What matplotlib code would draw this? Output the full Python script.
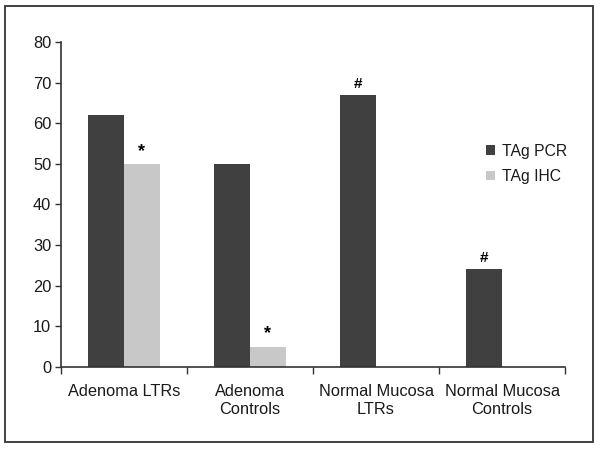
import matplotlib.pyplot as plt
from matplotlib.patches import Rectangle
import numpy as np

plt.rcParams['font.family'] = ['Liberation Sans', 'DejaVu Sans']

# Dados do gráfico
categorias = ["Adenoma LTRs", "Adenoma\nControls", "Normal Mucosa\nLTRs", "Normal Mucosa\nControls"]
tag_pcr = [62, 50, 67, 24]
tag_ihc = [50, 5, 0, 0]
marca_pcr = ["", "", "#", "#"]
marca_ihc = ["*", "*", "", ""]
y_ticks = [0, 10, 20, 30, 40, 50, 60, 70, 80]

cor_pcr = '#404040'
cor_ihc = '#c8c8c8'
cor_texto = '#1a1a1a'

fig = plt.figure(figsize=(6, 4.49), dpi=100)
ax = fig.add_axes([0.1017, 0.1826, 0.84, 0.724])

x = np.arange(len(categorias)) + 0.5
largura = 0.285

ax.bar(x - largura / 2, tag_pcr, largura, color=cor_pcr, label='TAg PCR')
ax.bar(x + largura / 2, tag_ihc, largura, color=cor_ihc, label='TAg IHC')

# Marcas de significância
for xi, v, m in zip(x - largura / 2, tag_pcr, marca_pcr):
    if m:
        ax.annotate(m, (xi, v), xytext=(0, 3), textcoords='offset points',
                    ha='center', va='bottom', fontsize=11, fontweight='bold')
for xi, v, m in zip(x + largura / 2, tag_ihc, marca_ihc):
    if m:
        ax.annotate(m, (xi, v), xytext=(0, 3), textcoords='offset points',
                    ha='center', va='bottom', fontsize=13, fontweight='bold')

ax.set_xlim(0, len(categorias))
ax.set_ylim(0, 80)
ax.set_yticks(y_ticks)
ax.tick_params(axis='y', labelsize=11.8, length=4, width=1, color='#333333',
               pad=3, labelcolor=cor_texto)

# Ticks nas fronteiras, rótulos no centro
ax.set_xticks(np.arange(len(categorias) + 1))
ax.set_xticklabels([])
ax.set_xticks(x, minor=True)
ax.set_xticklabels(categorias, minor=True, fontsize=11.8, color=cor_texto,
                   linespacing=1.25)
ax.tick_params(axis='x', which='major', length=5, width=1, color='#333333')
ax.tick_params(axis='x', which='minor', length=0, pad=12)

for s in ['top', 'right']:
    ax.spines[s].set_visible(False)
for s in ['left', 'bottom']:
    ax.spines[s].set_color('#333333')
    ax.spines[s].set_linewidth(1.2)

leg = ax.legend(loc='center left', bbox_to_anchor=(0.815, 0.625), frameon=False,
                fontsize=11.3, handlelength=0.55, handleheight=0.55, handletextpad=0.45,
                labelspacing=0.65)
for t in leg.get_texts():
    t.set_color(cor_texto)

# Moldura externa
fig.patches.append(Rectangle((5 / 600, 1 - 442 / 449), 588 / 600, 436 / 449,
                             transform=fig.transFigure, fill=False,
                             edgecolor='#333333', linewidth=1.3))

fig.savefig('out.png', dpi=100)
